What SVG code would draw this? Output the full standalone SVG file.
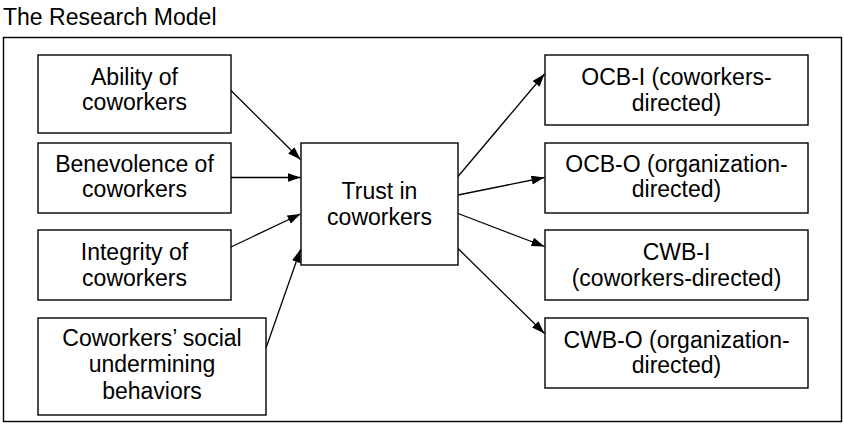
<svg xmlns="http://www.w3.org/2000/svg" width="844" height="424" viewBox="0 0 844 424">
<style>
  .box { fill: #ffffff; stroke: #000000; stroke-width: 1.4; }
  .t { font-family: "Liberation Sans", Arial, sans-serif; font-size: 23px; fill: #000000; text-anchor: middle; }
  .title { font-family: "Liberation Sans", Arial, sans-serif; font-size: 23px; fill: #000000; }
  .edge { stroke: #000000; stroke-width: 1.3; fill: none; marker-end: url(#arrow); }
</style>
<defs>
  <marker id="arrow" markerUnits="userSpaceOnUse" markerWidth="14" markerHeight="10" refX="13" refY="4.5" orient="auto">
    <path d="M0,0 L13,4.5 L0,9 z" fill="#000000"/>
  </marker>
</defs>
<rect width="844" height="424" fill="#ffffff"/>
<text class="title" x="3" y="25">The Research Model</text>
<rect x="3.5" y="37.5" width="838" height="384" fill="none" stroke="#000000" stroke-width="1.4"/>

<g id="connectors">
  <line class="edge" x1="231" y1="90.5" x2="300.5" y2="159.5"/>
  <line class="edge" x1="231" y1="177.5" x2="300.5" y2="177.5"/>
  <line class="edge" x1="231" y1="247" x2="300.5" y2="214"/>
  <line class="edge" x1="266" y1="348" x2="300.5" y2="249.5"/>
  <line class="edge" x1="458" y1="176.5" x2="544.5" y2="74"/>
  <line class="edge" x1="458" y1="195" x2="544.5" y2="177.5"/>
  <line class="edge" x1="458" y1="213.5" x2="544.5" y2="246.5"/>
  <line class="edge" x1="458" y1="248.5" x2="544.5" y2="333.5"/>
</g>

<g id="ability">
  <rect class="box" x="38" y="55" width="193" height="78"/>
  <text class="t" x="134.5" y="84.5">Ability of</text>
  <text class="t" x="134.5" y="110">coworkers</text>
</g>
<g id="benevolence">
  <rect class="box" x="38" y="143" width="193" height="70"/>
  <text class="t" x="134.5" y="171.5">Benevolence of</text>
  <text class="t" x="134.5" y="197">coworkers</text>
</g>
<g id="integrity">
  <rect class="box" x="38" y="230" width="193" height="70"/>
  <text class="t" x="134.5" y="260">Integrity of</text>
  <text class="t" x="134.5" y="285.5">coworkers</text>
</g>
<g id="undermining">
  <rect class="box" x="38" y="318" width="228" height="97"/>
  <text class="t" x="152" y="346">Coworkers’ social</text>
  <text class="t" x="152" y="372">undermining</text>
  <text class="t" x="152" y="399">behaviors</text>
</g>
<g id="trust">
  <rect class="box" x="301" y="143" width="157" height="122"/>
  <text class="t" x="379.5" y="198.5">Trust in</text>
  <text class="t" x="379.5" y="225">coworkers</text>
</g>
<g id="ocb-i">
  <rect class="box" x="545" y="55" width="263" height="70"/>
  <text class="t" x="676.5" y="85">OCB-I (coworkers-</text>
  <text class="t" x="676.5" y="110.5">directed)</text>
</g>
<g id="ocb-o">
  <rect class="box" x="545" y="143" width="263" height="70"/>
  <text class="t" x="676.5" y="171.5">OCB-O (organization-</text>
  <text class="t" x="676.5" y="197">directed)</text>
</g>
<g id="cwb-i">
  <rect class="box" x="545" y="230" width="263" height="70"/>
  <text class="t" x="676.5" y="260">CWB-I</text>
  <text class="t" x="676.5" y="285.5">(coworkers-directed)</text>
</g>
<g id="cwb-o">
  <rect class="box" x="545" y="318" width="263" height="70"/>
  <text class="t" x="676.5" y="347.5">CWB-O (organization-</text>
  <text class="t" x="676.5" y="373">directed)</text>
</g>
</svg>
